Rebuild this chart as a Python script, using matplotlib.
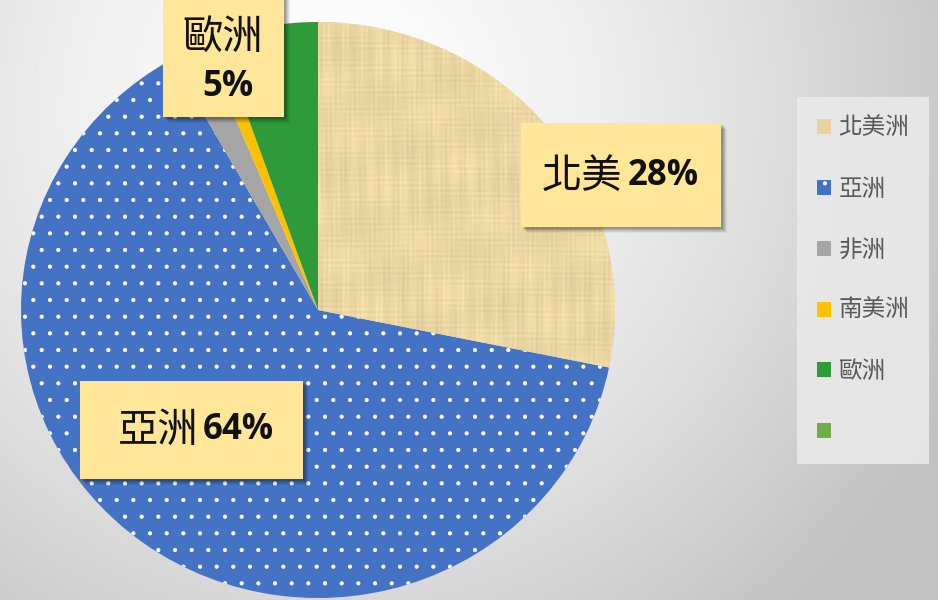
import numpy as np
import matplotlib
matplotlib.use('Agg')
import matplotlib.pyplot as plt
from matplotlib.patches import Rectangle, Patch

plt.rcParams['font.family'] = ['Noto Sans CJK TC', 'DejaVu Sans']
plt.rcParams['hatch.linewidth'] = 0.6

regions = ['北美洲', '亞洲', '非洲', '南美洲', '歐洲']
shares = [28.2, 63.6, 1.9, 0.9, 5.4]
label_names = ['北美', '亞洲', '', '', '歐洲']
colors = ['#E8D3A0', '#4472C4', '#A5A5A5', '#FFC000', '#2E9A3A']
extra_legend_color = '#70AD47'

W, H = 938, 600
fig = plt.figure(figsize=(W / 100, H / 100), dpi=100)

# background gradient
bg = fig.add_axes([0, 0, 1, 1], zorder=0)
yy, xx = np.mgrid[0:H, 0:W].astype(float)
d = np.sqrt((xx - 330) ** 2 + (yy - 110) ** 2)
v = 1.0 - 0.24 * np.clip(d / 680, 0, 1) ** 1.4
bg.imshow(np.dstack([v, v, v]), extent=(0, W, H, 0), aspect='auto')
bg.axis('off')

# pie axes (slightly wider than tall, as in the reference)
cx, cy, rx, ry = 318, 310, 297, 288
pax = fig.add_axes([(cx - rx) / W, 1 - (cy + ry) / H, 2 * rx / W, 2 * ry / H], zorder=1)
pax.patch.set_alpha(0)
wedges, _ = pax.pie(shares, colors=colors, startangle=90, counterclock=False,
                    radius=1, wedgeprops=dict(linewidth=0), frame=True)
wedges[1].set_hatch('.')
wedges[1].set_edgecolor('white')
wedges[1].set_linewidth(0)

# linen texture for the first wedge
ty, tx = np.mgrid[0:600, 0:600].astype(float)
vert = np.sin(tx * 1.3 + 0.6 * np.sin(ty * 0.02)) * (0.5 + 0.5 * np.sin(ty * 0.05 + tx * 0.31))
hori = np.sin(ty * 1.1 + 0.6 * np.sin(tx * 0.017)) * (0.5 + 0.5 * np.sin(tx * 0.04 - ty * 0.27))
slub = np.sin(tx * 0.37) * np.sin(ty * 0.023 + 1.0)
blot = np.sin(tx * 0.05 + ty * 0.03) * np.sin(ty * 0.07 - tx * 0.02)
shade = 1 + 0.03 * vert + 0.025 * hori + 0.02 * slub + 0.02 * blot
base = np.array([0.925, 0.845, 0.64])
tex = np.clip(base[None, None, :] * shade[..., None], 0, 1)
im = pax.imshow(tex, extent=(-1, 1, -1, 1), zorder=wedges[0].get_zorder() + 0.1)
im.set_clip_path(wedges[0])
pax.set_xlim(-1, 1)
pax.set_ylim(-1, 1)
pax.set_aspect('auto')
pax.axis('off')

# overlay axes in pixel units for labels and legend
ax = fig.add_axes([0, 0, 1, 1], zorder=2)
ax.patch.set_alpha(0)
ax.set_xlim(0, W)
ax.set_ylim(H, 0)
ax.axis('off')


def label_box(x0, y0, x1, y1):
    for k, a in [(7, 0.05), (6, 0.07), (5, 0.08), (4, 0.1), (3, 0.12)]:
        ax.add_patch(Rectangle((x0 + k - 1, y0 + k - 1), x1 - x0, y1 - y0,
                               facecolor='black', alpha=a, lw=0, zorder=5))
    ax.add_patch(Rectangle((x0, y0), x1 - x0, y1 - y0, facecolor='#FFE699',
                           lw=0, zorder=6))


pct = [f"{round(s)}%" for s in shares]
cjk = dict(fontsize=29, color='#111111', family=['Noto Sans CJK TC', 'DejaVu Sans'], zorder=7)
num = dict(fontsize=25, color='#111111', family=['Open Sans', 'DejaVu Sans'], fontweight='bold', zorder=7)

# 北美
label_box(521, 123, 721, 227)
ax.text(622, 176, label_names[0], ha='right', va='center', **cjk)
ax.text(628, 176, pct[0], ha='left', va='center', **num)
# 亞洲
label_box(80, 381, 303, 479)
ax.text(198, 430, label_names[1], ha='right', va='center', **cjk)
ax.text(203, 430, pct[1], ha='left', va='center', **num)
# 歐洲
label_box(163, -10, 284, 117)
ax.text(223, 37, label_names[4], ha='center', va='center', **cjk)
ax.text(228, 87, pct[4], ha='center', va='center', **num)

handles = list(wedges) + [Patch(facecolor=extra_legend_color, lw=0)]
leg = ax.legend(handles, regions + [''], loc='upper left',
                bbox_to_anchor=(797 / W, 1 - 97 / H), bbox_transform=fig.transFigure,
                frameon=True, fontsize=17, labelspacing=1.6, handlelength=0.6,
                handleheight=0.6, handletextpad=0.3, borderpad=0.85, fancybox=False,
                borderaxespad=0)
leg.get_frame().set_facecolor('#e9e9e9')
leg.get_frame().set_edgecolor('none')
leg.get_frame().set_alpha(0.9)
leg.set_zorder(8)
for t in leg.get_texts():
    t.set_color('#595959')

fig.savefig('out.png', dpi=100)
